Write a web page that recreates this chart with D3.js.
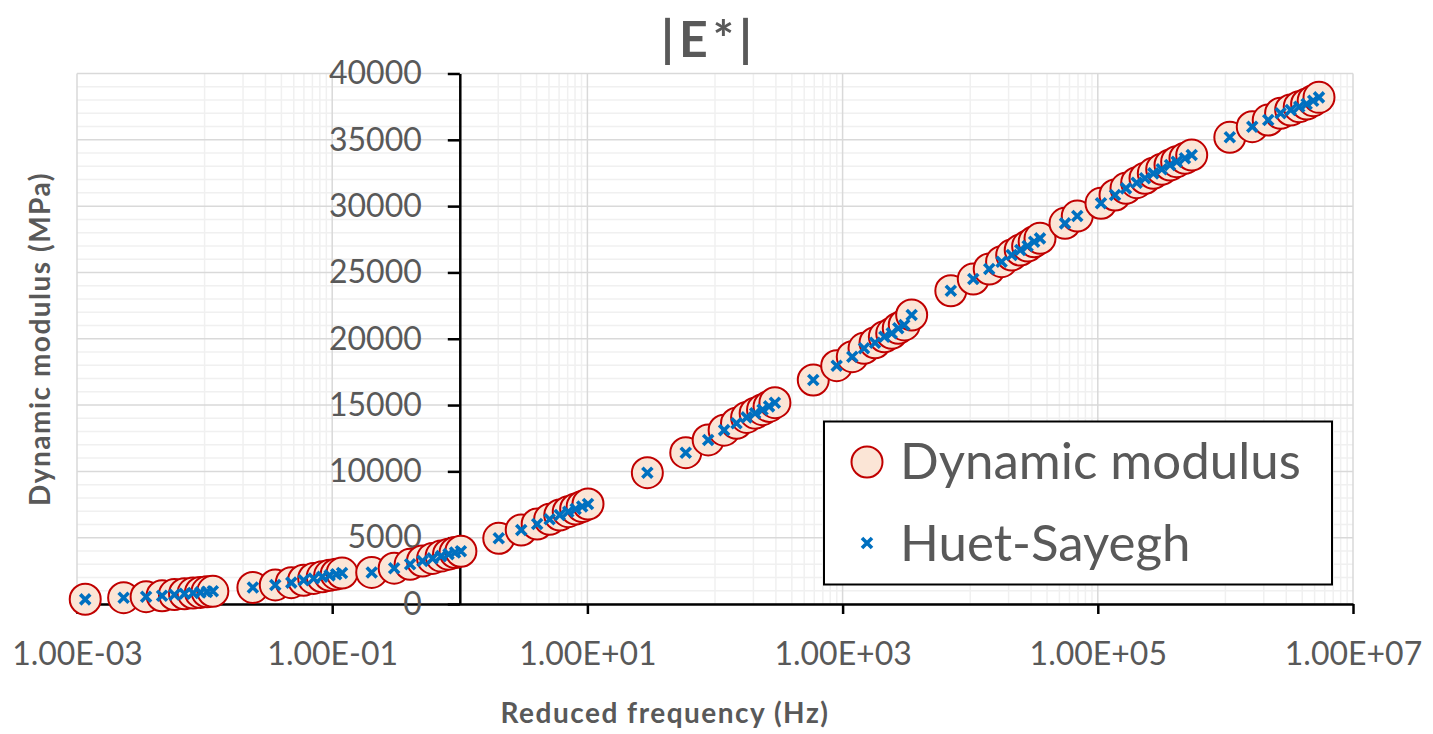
<!DOCTYPE html>
<html>
<head>
<meta charset="utf-8">
<script src="https://cdn.jsdelivr.net/npm/d3@7"></script>
<style>
  html, body { margin: 0; padding: 0; background: #fff; }
  svg { display: block; font-family: Lato, "Open Sans", sans-serif; }
</style>
</head>
<body>
<svg id="chart" width="1433" height="734"></svg>
<script>
// Reduced frequency (Hz) of each test point, grouped by test temperature
const reducedFreq = [
  0.00116, 0.00232, 0.00348, 0.00464, 0.0058, 0.00696, 0.00812, 0.00928, 0.01044, 0.0116,
  0.0239, 0.0358, 0.0478, 0.0597, 0.0716, 0.0836, 0.0955, 0.1075, 0.1194,
  0.204, 0.306, 0.408, 0.51, 0.612, 0.714, 0.816, 0.918, 1.02,
  2.02, 3.03, 4.04, 5.06, 6.07, 7.08, 8.09, 9.1, 10.11,
  29.5, 59, 88.4, 117.9, 147.4, 176.9, 206.4, 235.8, 265.3, 294.8,
  589, 899, 1191, 1472, 1795, 2124, 2427, 2731, 3043, 3477,
  7048, 10572, 14096, 17620, 21144, 24668, 28192, 31716, 35240,
  55340, 69040, 105900, 136500, 166300, 201700, 234400, 272300, 316900, 368100, 415000, 482000, 544500,
  1083000, 1624000, 2166000, 2707000, 3248000, 3790000, 4331000, 4873000, 5414000
];

// Measured dynamic modulus |E*| (MPa)
const measuredModulus = [
  355, 475, 555, 625, 710, 770, 825, 875, 915, 955,
  1250, 1440, 1610, 1790, 1930, 2050, 2160, 2250, 2330,
  2380, 2700, 2990, 3240, 3440, 3610, 3760, 3880, 3980,
  4950, 5580, 6030, 6390, 6710, 6960, 7160, 7350, 7540,
  9900, 11410, 12370, 13110, 13630, 14070, 14390, 14650, 14900, 15180,
  16890, 17970, 18650, 19280, 19700, 20150, 20410, 20790, 21040, 21790,
  23620, 24500, 25260, 25810, 26310, 26690, 26990, 27320, 27570,
  28700, 29250, 30210, 30840, 31340, 31770, 32100, 32470, 32780, 33100, 33350, 33610, 33850,
  35190, 35990, 36490, 37000, 37250, 37500, 37700, 37950, 38200
];

// Huet-Sayegh model fit (MPa)
const huetSayeghModulus = [
  350, 470, 550, 625, 705, 770, 825, 875, 915, 955,
  1250, 1440, 1610, 1790, 1930, 2050, 2160, 2250, 2330,
  2380, 2700, 2990, 3240, 3440, 3610, 3760, 3880, 3980,
  4950, 5580, 6030, 6390, 6710, 6960, 7160, 7350, 7540,
  9900, 11410, 12370, 13110, 13630, 14070, 14390, 14650, 14900, 15180,
  16890, 17970, 18650, 19280, 19700, 20150, 20410, 20790, 21040, 21790,
  23620, 24500, 25260, 25810, 26310, 26690, 26990, 27320, 27570,
  28700, 29250, 30210, 30840, 31340, 31770, 32100, 32470, 32780, 33100, 33350, 33610, 33850,
  35190, 35990, 36490, 37000, 37250, 37500, 37700, 37950, 38200
];

const xTickValues = [1e-3, 1e-1, 1e1, 1e3, 1e5, 1e7];
const xTickLabels = ["1.00E-03", "1.00E-01", "1.00E+01", "1.00E+03", "1.00E+05", "1.00E+07"];
const yTickValues = [0, 5000, 10000, 15000, 20000, 25000, 30000, 35000, 40000];
const seriesNames = ["Dynamic modulus", "Huet-Sayegh"];

const textGrey = "#595959";
const svg = d3.select("#chart");

const plot = { left: 77, right: 1353, top: 73.5, bottom: 604 };
const x = d3.scaleLog().domain([1e-3, 1e7]).range([plot.left, plot.right]);
const y = d3.scaleLinear().domain([0, 40000]).range([plot.bottom, plot.top]);

// Gridlines: minor values are j*10^d for the odd decades, majors every two decades
const minorX = [];
[-2, 0, 2, 4, 6].forEach(d => { for (let j = 1; j <= 9; j++) minorX.push(j * Math.pow(10, d)); });
const minorY = d3.range(0, 40001, 1000).filter(v => v % 5000 !== 0);

const grid = svg.append("g");
grid.selectAll(".hmin").data(minorY).join("line")
  .attr("x1", plot.left).attr("x2", plot.right)
  .attr("y1", d => y(d)).attr("y2", d => y(d))
  .attr("stroke", "#f0f0f0").attr("stroke-width", 1.5);
grid.selectAll(".vmin").data(minorX).join("line")
  .attr("x1", d => x(d)).attr("x2", d => x(d))
  .attr("y1", plot.top).attr("y2", plot.bottom)
  .attr("stroke", "#f0f0f0").attr("stroke-width", 1.5);
grid.selectAll(".hmaj").data(yTickValues).join("line")
  .attr("x1", plot.left).attr("x2", plot.right)
  .attr("y1", d => y(d)).attr("y2", d => y(d))
  .attr("stroke", "#d9d9d9").attr("stroke-width", 1.5);
grid.selectAll(".vmaj").data(xTickValues).join("line")
  .attr("x1", d => x(d)).attr("x2", d => x(d))
  .attr("y1", plot.top).attr("y2", plot.bottom)
  .attr("stroke", "#d9d9d9").attr("stroke-width", 1.5);

// X axis along y = 0
const xAxis = d3.axisBottom(x).tickValues(xTickValues)
  .tickFormat((d, i) => xTickLabels[i]).tickSize(10).tickPadding(28).tickSizeOuter(0);
const gx = svg.append("g").attr("transform", `translate(0,${y(0)})`).call(xAxis);
gx.select(".domain").attr("stroke", "#000").attr("stroke-width", 2.5);
gx.selectAll(".tick line").attr("stroke", "#000").attr("stroke-width", 2.5);
gx.selectAll(".tick text").attr("fill", textGrey).style("font-size", "32px").style("font-family", "Lato");

// Y axis crossing at 1 Hz
const yAxis = d3.axisLeft(y).tickValues(yTickValues).tickFormat(d3.format("d"))
  .tickSize(12).tickPadding(26).tickSizeOuter(0);
const gy = svg.append("g").attr("transform", `translate(${x(1)},0)`).call(yAxis);
gy.select(".domain").attr("stroke", "#000").attr("stroke-width", 2.5);
gy.selectAll(".tick line").attr("stroke", "#000").attr("stroke-width", 2.5);
gy.selectAll(".tick text").attr("fill", textGrey).style("font-size", "32px").style("font-family", "Lato");

// Measured points
const pts = reducedFreq.map((f, i) => ({ f, m: measuredModulus[i], h: huetSayeghModulus[i] }));
svg.append("g").selectAll("circle").data(pts).join("circle")
  .attr("cx", d => x(d.f)).attr("cy", d => y(d.m)).attr("r", 15.5)
  .attr("fill", "#fbe5d6").attr("stroke", "#c00000").attr("stroke-width", 2);

// Model points
const cross = "M-5,-5L5,5M-5,5L5,-5";
svg.append("g").selectAll("path").data(pts).join("path")
  .attr("d", cross).attr("transform", d => `translate(${x(d.f)},${y(d.h)})`)
  .attr("stroke", "#0070c0").attr("stroke-width", 3.6).attr("fill", "none");

// Titles
svg.append("text").attr("x", 709).attr("y", 57).attr("text-anchor", "middle")
  .attr("fill", textGrey).style("font-size", "50px").style("font-weight", "bold")
  .style("letter-spacing", "5px").text("|E*|");
svg.append("text").attr("transform", "translate(50,339) rotate(-90)").attr("text-anchor", "middle")
  .attr("fill", textGrey).style("font-size", "28px").style("font-weight", "bold")
  .style("letter-spacing", "1.5px").text("Dynamic modulus (MPa)");
svg.append("text").attr("x", 665).attr("y", 723).attr("text-anchor", "middle")
  .attr("fill", textGrey).style("font-size", "28px").style("font-weight", "bold")
  .style("letter-spacing", "1.5px").text("Reduced frequency (Hz)");

// Legend
const lg = svg.append("g");
lg.append("rect").attr("x", 824).attr("y", 421.5).attr("width", 508).attr("height", 163)
  .attr("fill", "#fff").attr("stroke", "#000").attr("stroke-width", 2);
lg.append("circle").attr("cx", 867).attr("cy", 462).attr("r", 15.5)
  .attr("fill", "#fbe5d6").attr("stroke", "#c00000").attr("stroke-width", 2);
lg.append("path").attr("d", cross).attr("transform", "translate(867,543)")
  .attr("stroke", "#0070c0").attr("stroke-width", 3.6).attr("fill", "none");
lg.selectAll("text").data(seriesNames).join("text")
  .attr("x", 900).attr("y", (d, i) => i === 0 ? 479 : 561)
  .attr("fill", textGrey).style("font-size", "51px").text(d => d);
</script>
</body>
</html>
